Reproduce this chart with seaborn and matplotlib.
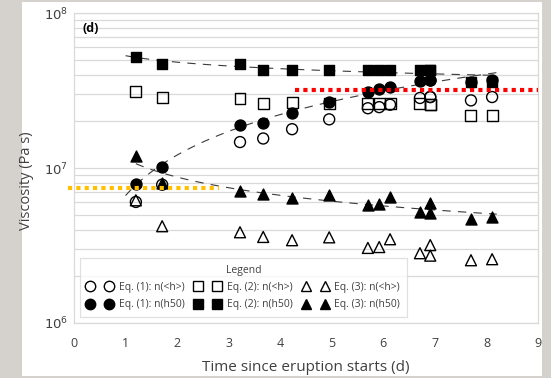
import numpy as np
import pandas as pd
import matplotlib
matplotlib.use("Agg")
import matplotlib.pyplot as plt
import seaborn as sns
from matplotlib.lines import Line2D
from matplotlib.patches import Rectangle

# ---------------- data ----------------
days = [1.20, 1.71, 3.22, 3.67, 4.23, 4.95, 5.70, 5.92, 6.13, 6.71, 6.91, 6.91, 7.70, 8.11]

eq1_h = [6.04e6, 7.8e6, 1.47e7, 1.55e7, 1.78e7, 2.06e7, 2.43e7, 2.47e7, 2.56e7, 2.83e7, 2.87e7, 2.87e7, 2.73e7, 2.87e7]
eq1_h50 = [7.93e6, 1.015e7, 1.887e7, 1.963e7, 2.26e7, 2.67e7, 3.09e7, 3.22e7, 3.33e7, 3.64e7, 3.72e7, 3.72e7, 3.6e7, 3.7e7]
eq2_h = [3.13e7, 2.85e7, 2.80e7, 2.60e7, 2.63e7, 2.60e7, 2.60e7, 2.60e7, 2.60e7, 2.60e7, 2.58e7, 2.58e7, 2.19e7, 2.19e7]
eq2_h50 = [5.20e7, 4.72e7, 4.72e7, 4.27e7, 4.27e7, 4.27e7, 4.27e7, 4.27e7, 4.27e7, 4.27e7, 4.27e7, 4.27e7, 3.59e7, 3.59e7]
eq3_h = [6.19e6, 4.21e6, 3.85e6, 3.59e6, 3.42e6, 3.57e6, 3.05e6, 3.09e6, 3.47e6, 2.82e6, 3.18e6, 2.72e6, 2.54e6, 2.58e6]
eq3_h50 = [1.19e7, 7.95e6, 7.10e6, 6.76e6, 6.38e6, 6.70e6, 5.77e6, 5.83e6, 6.50e6, 5.23e6, 5.98e6, 5.13e6, 4.69e6, 4.81e6]

labels = ["Eq. (1): n(<h>)", "Eq. (1): n(h50)",
          "Eq. (2): n(<h>)", "Eq. (2): n(h50)",
          "Eq. (3): n(<h>)", "Eq. (3): n(h50)"]

trend_ranges = {"Eq. (1): n(h50)": (1.0, 8.2),
                "Eq. (2): n(h50)": (1.0, 8.2),
                "Eq. (3): n(h50)": (1.2, 8.2)}

red_level, red_x = 3.2e7, (4.29, 9.0)
orange_level, orange_x = 7.43e6, (-0.12, 2.81)

xticks = [0, 1, 2, 3, 4, 5, 6, 7, 8, 9]
yticks = [1e6, 1e7, 1e8]
ytick_labels = ["$10^{6}$", "$10^{7}$", "$10^{8}$"]

# ---------------- style ----------------
sns.set_style("white")
plt.rcParams["font.family"] = ["Open Sans", "DejaVu Sans"]

W, H = 551, 378
fig = plt.figure(figsize=(W / 100, H / 100), dpi=100)
fig.patch.set_facecolor("#d5d2cd")
fig.add_artist(Rectangle((22 / W, 2 / H), (542 - 22) / W, (376 - 2) / H,
                         transform=fig.transFigure, facecolor="white",
                         edgecolor="none", zorder=0))

ax = fig.add_axes([74 / W, 1 - 323 / H, (538 - 74) / W, (323 - 13) / H])
ax.set_facecolor("none")

series = {l: v for l, v in zip(labels, [eq1_h, eq1_h50, eq2_h, eq2_h50, eq3_h, eq3_h50])}
df = pd.DataFrame({"day": np.tile(days, 6),
                   "visc": np.concatenate([series[l] for l in labels]),
                   "series": np.repeat(labels, len(days))})

markers = {"Eq. (1)": "o", "Eq. (2)": "s", "Eq. (3)": "^"}
msize = 7.9

# trend lines (power-law fits, as Excel trendlines)
for lab, (x0, x1) in trend_ranges.items():
    sub = df[df.series == lab]
    b, a = np.polyfit(np.log10(sub.day), np.log10(sub.visc), 1)
    xs = np.linspace(x0, x1, 120)
    tr = pd.DataFrame({"day": xs, "visc": 10 ** (a + b * np.log10(xs))})
    sns.lineplot(data=tr, x="day", y="visc", ax=ax, color="#3a3a3a", lw=0.8,
                 linestyle=(0, (7.5, 6.5)), zorder=2)

order = labels
for lab in order:
    sub = df[df.series == lab]
    mk = markers[lab[:7]]
    filled = "h50" in lab
    sns.scatterplot(data=sub, x="day", y="visc", ax=ax, marker=mk,
                    s=msize ** 2, zorder=3, legend=False)
    coll = ax.collections[-1]
    coll.set_facecolor("black" if filled else "none")
    coll.set_edgecolor("black")
    coll.set_linewidth(1.0)

# reference levels
ax.plot(red_x, [red_level] * 2, color="#ff0000", lw=3.0,
        linestyle=(0, (1, 1)), dash_capstyle="butt",
        zorder=4, clip_on=False)
ax.plot(orange_x, [orange_level] * 2, color="#ffc000", lw=3.0,
        linestyle=(0, (1, 1)), dash_capstyle="butt", zorder=4, clip_on=False)

# axes
ax.set_yscale("log")
ax.set_ylim(1e6, 1e8)
ax.set_xlim(0, 9)
ax.set_xticks(xticks)
ax.set_xticklabels([str(t) for t in xticks], fontsize=9, color="#404040")
ax.set_yticks(yticks)
ax.set_yticklabels(ytick_labels, fontsize=9.5, color="#404040")
ax.yaxis.set_minor_locator(matplotlib.ticker.LogLocator(base=10, subs=np.arange(2, 10)))
ax.yaxis.set_minor_formatter(matplotlib.ticker.NullFormatter())
ax.grid(True, which="both", axis="y", color="#d9d9d9", lw=0.9)
ax.tick_params(axis="y", which="both", length=0, pad=4)
ax.tick_params(axis="x", length=4, color="#d9d9d9", width=0.9, pad=6)
for sp in ax.spines.values():
    sp.set_color("#d9d9d9")
    sp.set_linewidth(0.9)

ax.set_xlabel("Time since eruption starts (d)", fontsize=11, color="#404040", labelpad=7)
ax.set_ylabel("Viscosity (Pa s)", fontsize=10.5, color="#404040")
ax.yaxis.set_label_coords(-0.086, 0.46)

ax.text(0.018, 0.972, "(d)", transform=ax.transAxes, fontsize=9,
        fontweight="bold", va="top", ha="left", color="black")

# legend
handles = []
for lab in order:
    mk = markers[lab[:7]]
    filled = "h50" in lab
    handles.append(Line2D([], [], linestyle="none", marker=mk, markersize=msize * 0.95,
                          markerfacecolor="black" if filled else "none",
                          markeredgecolor="black", markeredgewidth=1.0))
leg = ax.legend(handles, order, ncol=3, numpoints=2, title="Legend",
                loc="lower left", bbox_to_anchor=(0.013, 0.019), borderaxespad=0,
                fontsize=7.5, title_fontsize=7.5, frameon=True, fancybox=False,
                handlelength=2.45, handletextpad=0.6, columnspacing=1.0,
                labelspacing=0.6, borderpad=0.65)
leg.get_frame().set_edgecolor("#d9d9d9")
leg.get_frame().set_linewidth(0.9)
for t in leg.get_texts():
    t.set_color("#404040")
leg.get_title().set_color("#404040")
leg.set_zorder(5)

fig.savefig("out.png", dpi=100, facecolor=fig.get_facecolor())
